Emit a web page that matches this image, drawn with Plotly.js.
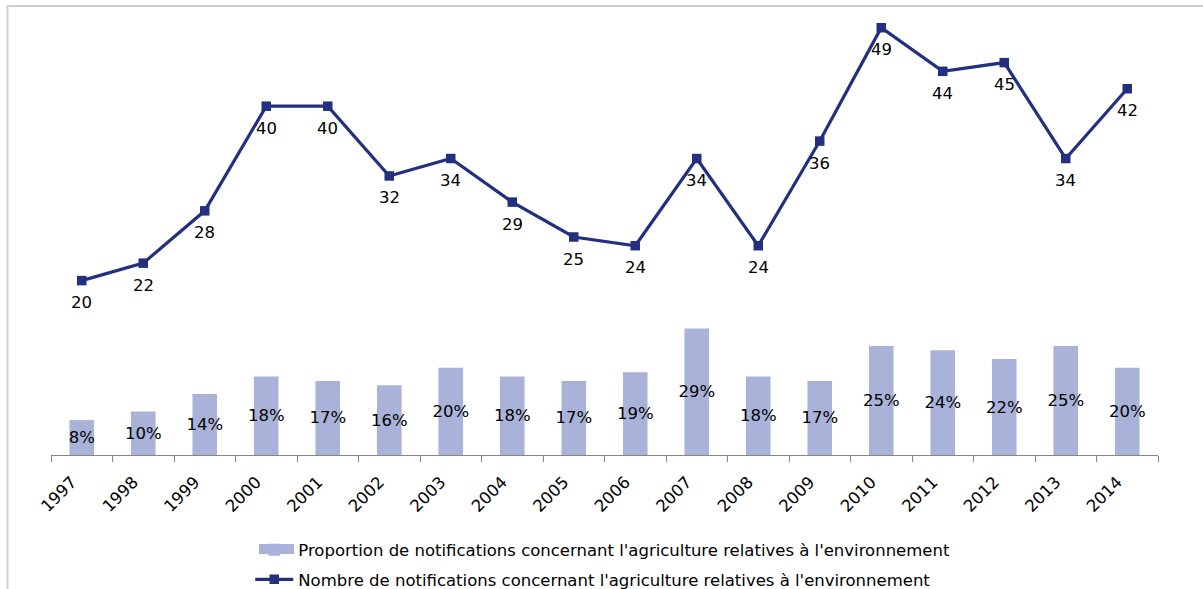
<!DOCTYPE html>
<html>
<head>
<meta charset="utf-8">
<script src="https://cdn.plot.ly/plotly-3.0.1.min.js"></script>
<style>
  html, body { margin: 0; padding: 0; background: #fff; }
  #chart { width: 1203px; height: 589px; }
</style>
</head>
<body>
<div id="chart"></div>
<script>
// Years on the category axis
const years = ['1997', '1998', '1999', '2000', '2001', '2002', '2003', '2004', '2005',
               '2006', '2007', '2008', '2009', '2010', '2011', '2012', '2013', '2014'];

// Share of agriculture notifications related to the environment (fraction)
const proportion = [0.08, 0.10, 0.14, 0.18, 0.17, 0.16, 0.20, 0.18, 0.17,
                    0.19, 0.29, 0.18, 0.17, 0.25, 0.24, 0.22, 0.25, 0.20];

// Number of agriculture notifications related to the environment
const nombre = [20, 22, 28, 40, 40, 32, 34, 29, 25, 24, 34, 24, 36, 49, 44, 45, 34, 42];

const barName = "Proportion de notifications concernant l'agriculture relatives à l'environnement";
const lineName = "Nombre de notifications concernant l'agriculture relatives à l'environnement";

const FONT = 'DejaVu Sans, Verdana, sans-serif';
const FS = 16.5;
const BAR_COLOR = '#A9B3D9';
const LINE_COLOR = '#22307F';

const barTrace = {
  type: 'bar',
  name: barName,
  x: years,
  y: proportion,
  yaxis: 'y2',
  marker: { color: BAR_COLOR, line: { width: 0 } },
  text: proportion.map(v => Math.round(v * 100) + '%'),
  textposition: 'inside',
  insidetextanchor: 'middle',
  textangle: 0,
  constraintext: 'none',
  insidetextfont: { family: FONT, size: FS, color: '#000' },
  hoverinfo: 'x+text',
  legendgroup: 'a'
};

const lineTrace = {
  type: 'scatter',
  mode: 'lines+markers',
  name: lineName,
  x: years,
  y: nombre,
  yaxis: 'y',
  line: { color: LINE_COLOR, width: 3.2 },
  marker: { symbol: 'square', size: 9.5, color: LINE_COLOR },
  legendgroup: 'b'
};

// value labels under each point of the line (x given as category index)
const lineLabels = nombre.map((v, i) => ({
  x: i, y: v, xref: 'x', yref: 'y',
  text: String(v), showarrow: false, yshift: -22,
  font: { family: FONT, size: FS, color: '#000' }
}));

const layout = {
  width: 1203,
  height: 589,
  margin: { l: 51, r: 45, t: 19, b: 134, pad: 0, autoexpand: false },
  paper_bgcolor: '#fff',
  plot_bgcolor: 'rgba(0,0,0,0)',
  font: { family: FONT, size: FS, color: '#000' },
  bargap: 0.6,
  showlegend: true,
  legend: {
    orientation: 'v',
    x: 0.180, xanchor: 'left',
    y: -0.178, yanchor: 'top',
    font: { family: FONT, size: FS, color: '#000' },
    itemwidth: 38,
    tracegroupgap: 5,
    traceorder: 'grouped',
    bgcolor: 'rgba(0,0,0,0)'
  },
  xaxis: {
    type: 'category',
    range: [-0.5, years.length - 0.5],
    showgrid: false,
    zeroline: false,
    showline: true,
    linecolor: '#868686',
    linewidth: 1,
    ticks: 'outside',
    tickson: 'boundaries',
    ticklen: 6,
    tickcolor: '#868686',
    tickangle: -45,
    ticklabelstandoff: 10,
    ticklabelshift: -10,
    tickfont: { family: FONT, size: FS, color: '#000' },
    automargin: false,
    fixedrange: true
  },
  yaxis: {
    range: [0, 50],
    visible: false,
    showgrid: false,
    zeroline: false,
    fixedrange: true
  },
  yaxis2: {
    range: [0, 1],
    overlaying: 'y',
    side: 'right',
    visible: false,
    showgrid: false,
    zeroline: false,
    fixedrange: true
  },
  annotations: lineLabels,
  shapes: [
    {
      // light frame around the chart area
      type: 'rect', xref: 'paper', yref: 'paper',
      x0: -0.0393, x1: 1.06, y0: -0.36, y1: 1.0298,
      line: { color: '#D0D0D0', width: 2 },
      fillcolor: 'rgba(0,0,0,0)',
      layer: 'below'
    },
    {
      // wide swatch behind the bar legend key
      type: 'rect', xref: 'paper', yref: 'paper',
      x0: 0.1879, x1: 0.2195, y0: -0.2271, y1: -0.2041,
      line: { width: 0 },
      fillcolor: BAR_COLOR,
      layer: 'above'
    }
  ]
};

Plotly.newPlot('chart', [barTrace, lineTrace], layout, { displayModeBar: false, staticPlot: true });
</script>
</body>
</html>
